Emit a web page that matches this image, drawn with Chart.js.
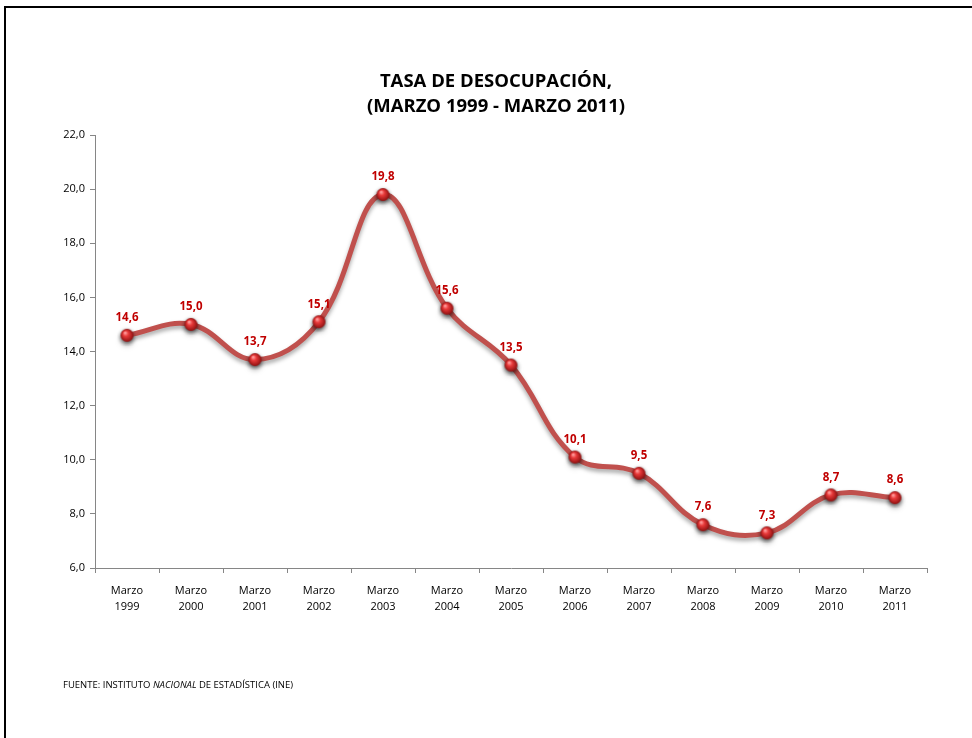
<!DOCTYPE html>
<html>
<head>
<meta charset="utf-8">
<script src="https://cdn.jsdelivr.net/npm/chart.js@4/dist/chart.umd.min.js"></script>
<style>
    html, body { margin: 0; padding: 0; background: #fff; }
    #wrap { position: relative; width: 972px; height: 738px; overflow: hidden; }
    #frame {
        position: absolute; left: 4px; top: 6px; right: -4px; bottom: -4px;
        border-left: 2px solid #000; border-top: 2px solid #000;
    }
    #chart { position: absolute; left: 0; top: 0; }
    #title {
        position: absolute; left: 296px; width: 400px; top: 67px;
        text-align: center; font-family: "Open Sans", sans-serif; font-weight: bold;
        font-size: 18.5px; line-height: 25px; color: #000;
    }
    #source {
        position: absolute; left: 63px; top: 678px;
        font-family: "Open Sans", sans-serif; font-size: 9.5px; color: #000;
    }
</style>
</head>
<body>
<div id="wrap">
    <div id="frame"></div>
    <canvas id="chart" width="972" height="738"></canvas>
    <div id="title">TASA DE DESOCUPACIÓN,<br>(MARZO 1999 - MARZO 2011)</div>
    <div id="source">FUENTE: INSTITUTO <i>NACIONAL</i> DE ESTADÍSTICA (INE)</div>
</div>
<script>
// datos
const meses = ['Marzo', 'Marzo', 'Marzo', 'Marzo', 'Marzo', 'Marzo', 'Marzo', 'Marzo', 'Marzo', 'Marzo', 'Marzo', 'Marzo', 'Marzo'];
const anios = ['1999', '2000', '2001', '2002', '2003', '2004', '2005', '2006', '2007', '2008', '2009', '2010', '2011'];
const tasa = [14.6, 15.0, 13.7, 15.1, 19.8, 15.6, 13.5, 10.1, 9.5, 7.6, 7.3, 8.7, 8.6];
const yMin = 6;
const yMax = 22;
const yPaso = 2;

const etiquetas = meses.map((m, i) => [m, anios[i]]);
const fmt = v => v.toFixed(1).replace('.', ',');

// esfera roja para los puntos
function crearEsfera(r) {
    const c = document.createElement('canvas');
    const size = r * 2 + 8;
    c.width = size; c.height = size;
    const g = c.getContext('2d');
    const cx = size / 2, cy = size / 2;
    g.shadowColor = 'rgba(0,0,0,0.45)';
    g.shadowBlur = 4;
    g.shadowOffsetY = 1.5;
    const grad = g.createRadialGradient(cx - r * 0.3, cy - r * 0.4, r * 0.1, cx, cy, r);
    grad.addColorStop(0, '#ff9a9a');
    grad.addColorStop(0.35, '#e83a3a');
    grad.addColorStop(1, '#8e1010');
    g.fillStyle = grad;
    g.beginPath();
    g.arc(cx, cy, r, 0, Math.PI * 2);
    g.fill();
    return c;
}
const esfera = crearEsfera(6.5);

const sombraLinea = {
    id: 'sombraLinea',
    beforeDatasetDraw(chart) {
        const ctx = chart.ctx;
        ctx.save();
        ctx.shadowColor = 'rgba(0,0,0,0.35)';
        ctx.shadowBlur = 4;
        ctx.shadowOffsetY = 3;
    },
    afterDatasetDraw(chart) {
        chart.ctx.restore();
    }
};

const valores = {
    id: 'valores',
    afterDatasetsDraw(chart) {
        const ctx = chart.ctx;
        const meta = chart.getDatasetMeta(0);
        ctx.save();
        ctx.font = 'bold 11.5px "Open Sans", sans-serif';
        ctx.fillStyle = '#c00000';
        ctx.textAlign = 'center';
        ctx.textBaseline = 'middle';
        meta.data.forEach((pt, i) => {
            ctx.fillText(fmt(tasa[i]), pt.x, pt.y - 17.5);
        });
        ctx.restore();
    }
};

new Chart(document.getElementById('chart'), {
    type: 'line',
    data: {
        labels: etiquetas,
        datasets: [{
            data: tasa,
            borderColor: '#c0504d',
            borderWidth: 5,
            tension: 0.4,
            fill: false,
            pointStyle: esfera,
            pointRadius: 7
        }]
    },
    options: {
        responsive: false,
        animation: false,
        events: [],
        layout: { padding: { left: 0, right: 45, top: 135, bottom: 118 } },
        plugins: {
            legend: { display: false },
            tooltip: { enabled: false },
            title: { display: false }
        },
        scales: {
            x: {
                offset: true,
                afterFit: s => { s.height = 52; },
                grid: {
                    drawOnChartArea: false,
                    offset: true,
                    tickLength: 5,
                    color: '#868686'
                },
                border: { color: '#868686', width: 1 },
                ticks: {
                    color: '#000',
                    padding: 10,
                    maxRotation: 0,
                    autoSkip: false,
                    font: { family: '"Open Sans", sans-serif', size: 11, lineHeight: 1.45 }
                }
            },
            y: {
                min: yMin,
                max: yMax,
                afterFit: s => { s.width = 95; },
                grid: {
                    drawOnChartArea: false,
                    tickLength: 5,
                    color: '#868686'
                },
                border: { color: '#868686', width: 1 },
                ticks: {
                    stepSize: yPaso,
                    color: '#000',
                    padding: 5,
                    callback: v => fmt(v),
                    font: { family: '"Open Sans", sans-serif', size: 11 }
                }
            }
        }
    },
    plugins: [sombraLinea, valores]
});
</script>
</body>
</html>
